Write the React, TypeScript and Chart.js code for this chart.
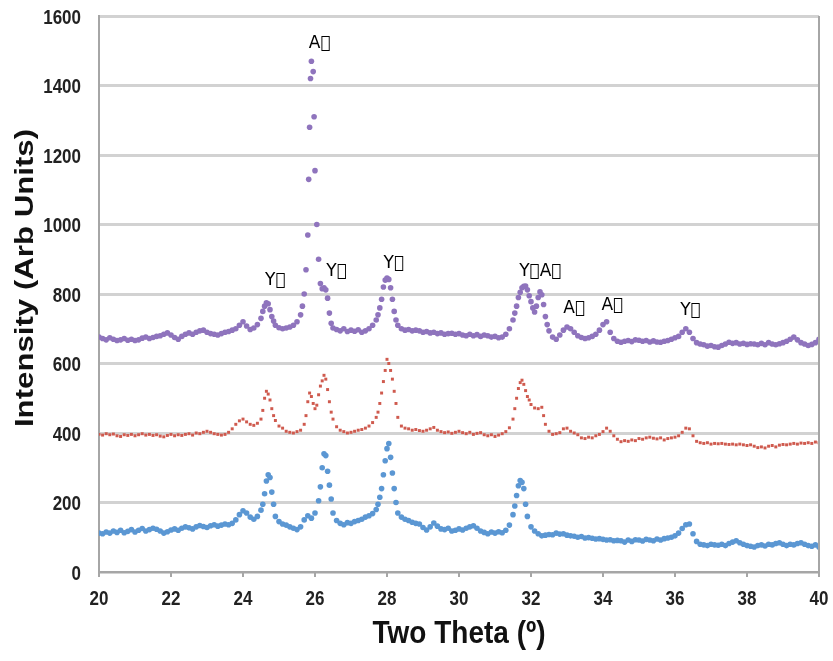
import React, { useEffect, useRef } from "react";
import { Chart, registerables } from "chart.js";
Chart.register(...registerables);

// [two theta, intensity]
const blueSeries: [number, number][] = [
  [20.0,112],[20.1,110],[20.2,115],[20.3,112],[20.4,118],[20.5,114],[20.6,120],[20.7,113],[20.8,117],[20.9,122],
  [21.0,115],[21.1,120],[21.2,125],[21.3,118],[21.4,122],[21.5,126],[21.6,123],[21.7,118],[21.8,112],[21.9,116],
  [22.0,121],[22.1,124],[22.2,120],[22.3,126],[22.4,130],[22.5,127],[22.6,124],[22.7,130],[22.8,134],[22.9,131],
  [23.0,128],[23.1,133],[23.2,136],[23.3,132],[23.4,135],[23.5,138],[23.6,136],[23.7,140],[23.8,150],[23.9,165],
  [24.0,176],[24.1,170],[24.2,158],[24.3,152],[24.4,160],[24.5,178],[24.55,195],[24.6,225],[24.65,262],[24.7,280],
  [24.75,272],[24.8,230],[24.85,195],[24.9,160],[25.0,145],[25.1,138],[25.2,135],[25.3,130],[25.4,126],[25.5,122],
  [25.6,130],[25.7,150],[25.8,162],[25.9,155],[26.0,170],[26.1,205],[26.15,245],[26.2,300],[26.25,340],[26.3,335],
  [26.35,290],[26.4,250],[26.45,210],[26.5,170],[26.6,148],[26.7,140],[26.8,136],[26.9,142],[27.0,140],[27.1,145],
  [27.2,148],[27.3,152],[27.4,158],[27.5,162],[27.6,168],[27.7,180],[27.75,195],[27.8,215],[27.85,240],[27.9,280],
  [27.95,320],[28.0,355],[28.05,370],[28.1,330],[28.15,285],[28.2,240],[28.25,200],[28.3,170],[28.4,158],[28.5,152],
  [28.6,148],[28.7,143],[28.8,140],[28.9,138],[29.0,128],[29.1,121],[29.2,130],[29.3,141],[29.4,132],[29.5,124],
  [29.6,122],[29.7,126],[29.8,118],[29.9,120],[30.0,124],[30.1,121],[30.2,126],[30.3,130],[30.4,133],[30.5,126],
  [30.6,118],[30.7,114],[30.8,110],[30.9,115],[31.0,112],[31.1,116],[31.2,113],[31.3,120],[31.4,135],[31.5,165],
  [31.55,190],[31.6,220],[31.65,248],[31.7,263],[31.75,258],[31.8,240],[31.85,195],[31.9,160],[32.0,130],[32.1,118],
  [32.2,110],[32.3,104],[32.4,106],[32.5,108],[32.6,107],[32.7,112],[32.8,109],[32.9,110],[33.0,106],[33.1,104],
  [33.2,103],[33.3,100],[33.4,102],[33.5,98],[33.6,99],[33.7,97],[33.8,95],[33.9,96],[34.0,94],[34.1,92],
  [34.2,93],[34.3,90],[34.4,91],[34.5,90],[34.6,86],[34.7,92],[34.8,88],[34.9,93],[35.0,92],[35.1,89],
  [35.2,94],[35.3,92],[35.4,90],[35.5,95],[35.6,92],[35.7,96],[35.8,98],[35.9,100],[36.0,104],[36.1,112],
  [36.2,125],[36.3,136],[36.4,138],[36.5,110],[36.6,88],[36.7,80],[36.8,78],[36.9,76],[37.0,80],[37.1,78],
  [37.2,77],[37.3,80],[37.4,76],[37.5,82],[37.6,86],[37.7,90],[37.8,84],[37.9,80],[38.0,76],[38.1,74],
  [38.2,72],[38.3,76],[38.4,78],[38.5,75],[38.6,80],[38.7,78],[38.8,82],[38.9,84],[39.0,80],[39.1,76],
  [39.2,80],[39.3,78],[39.4,82],[39.5,84],[39.6,80],[39.7,76],[39.8,74],[39.9,78],[40.0,72],
];

const redSeries: [number, number][] = [
  [20.0,396],[20.1,394],[20.2,398],[20.3,395],[20.4,397],[20.5,392],[20.6,390],[20.7,395],[20.8,393],[20.9,396],
  [21.0,392],[21.1,395],[21.2,398],[21.3,394],[21.4,396],[21.5,393],[21.6,395],[21.7,391],[21.8,389],[21.9,393],
  [22.0,396],[22.1,392],[22.2,395],[22.3,393],[22.4,396],[22.5,398],[22.6,394],[22.7,400],[22.8,398],[22.9,402],
  [23.0,405],[23.1,402],[23.2,398],[23.3,396],[23.4,394],[23.5,396],[23.6,402],[23.7,412],[23.8,425],[23.9,435],
  [24.0,440],[24.1,432],[24.2,425],[24.3,422],[24.4,428],[24.5,440],[24.55,465],[24.6,500],[24.65,520],[24.7,512],
  [24.75,495],[24.8,470],[24.85,450],[24.9,436],[25.0,420],[25.1,414],[25.2,405],[25.3,402],[25.4,400],[25.5,404],
  [25.6,408],[25.7,425],[25.75,450],[25.8,490],[25.85,515],[25.9,505],[25.95,485],[26.0,470],[26.05,480],[26.1,510],
  [26.15,535],[26.2,550],[26.25,566],[26.3,555],[26.35,525],[26.4,490],[26.45,460],[26.5,440],[26.6,418],[26.7,408],
  [26.8,404],[26.9,400],[27.0,402],[27.1,405],[27.2,408],[27.3,410],[27.4,414],[27.5,420],[27.6,430],[27.7,445],
  [27.75,460],[27.8,485],[27.85,515],[27.9,548],[27.95,580],[28.0,612],[28.05,600],[28.1,580],[28.15,555],[28.2,520],
  [28.25,485],[28.3,445],[28.4,420],[28.5,414],[28.6,412],[28.7,408],[28.8,410],[28.9,407],[29.0,405],[29.1,408],
  [29.2,412],[29.3,416],[29.4,408],[29.5,404],[29.6,401],[29.7,403],[29.8,399],[29.9,402],[30.0,405],[30.1,401],
  [30.2,398],[30.3,402],[30.4,396],[30.5,399],[30.6,401],[30.7,395],[30.8,392],[30.9,395],[31.0,390],[31.1,394],
  [31.2,398],[31.3,404],[31.4,415],[31.5,440],[31.55,470],[31.6,500],[31.65,528],[31.7,545],[31.75,552],[31.8,540],
  [31.85,522],[31.9,505],[31.95,495],[32.0,482],[32.1,472],[32.2,470],[32.3,474],[32.35,450],[32.4,425],[32.5,405],
  [32.6,396],[32.7,398],[32.8,401],[32.9,412],[33.0,414],[33.1,405],[33.2,400],[33.3,395],[33.4,386],[33.5,384],
  [33.6,388],[33.7,386],[33.8,392],[33.9,396],[34.0,404],[34.1,414],[34.2,405],[34.3,392],[34.4,382],[34.5,375],
  [34.6,378],[34.7,376],[34.8,380],[34.9,378],[35.0,384],[35.1,382],[35.2,386],[35.3,388],[35.4,385],[35.5,383],
  [35.6,386],[35.7,380],[35.8,384],[35.9,386],[36.0,388],[36.1,392],[36.2,402],[36.3,414],[36.4,412],[36.5,392],
  [36.6,376],[36.7,372],[36.8,370],[36.9,372],[37.0,368],[37.1,370],[37.2,369],[37.3,370],[37.4,368],[37.5,367],
  [37.6,368],[37.7,366],[37.8,368],[37.9,366],[38.0,364],[38.1,366],[38.2,362],[38.3,358],[38.4,360],[38.5,357],
  [38.6,362],[38.7,364],[38.8,360],[38.9,365],[39.0,367],[39.1,366],[39.2,368],[39.3,370],[39.4,368],[39.5,371],
  [39.6,370],[39.7,372],[39.8,370],[39.9,374],[40.0,372],
];

const purpleSeries: [number, number][] = [
  [20.0,676],[20.1,672],[20.2,668],[20.3,674],[20.4,670],[20.5,666],[20.6,668],[20.7,672],[20.8,667],[20.9,670],
  [21.0,666],[21.1,668],[21.2,673],[21.3,676],[21.4,672],[21.5,675],[21.6,678],[21.7,680],[21.8,684],[21.9,688],
  [22.0,682],[22.1,675],[22.2,670],[22.3,678],[22.4,684],[22.5,688],[22.6,684],[22.7,690],[22.8,694],[22.9,696],
  [23.0,690],[23.1,686],[23.2,684],[23.3,682],[23.4,686],[23.5,690],[23.6,692],[23.7,696],[23.8,700],[23.9,710],
  [24.0,720],[24.1,708],[24.2,698],[24.3,702],[24.4,712],[24.5,730],[24.55,750],[24.6,765],[24.65,775],[24.7,772],
  [24.75,755],[24.8,735],[24.85,722],[24.9,710],[25.0,703],[25.1,700],[25.2,702],[25.3,705],[25.4,710],[25.5,720],
  [25.6,740],[25.65,765],[25.7,800],[25.75,870],[25.8,970],[25.825,1130],[25.85,1280],[25.875,1420],[25.9,1470],[25.95,1440],
  [25.975,1310],[26.0,1155],[26.05,1000],[26.1,900],[26.15,830],[26.2,815],[26.25,818],[26.3,812],[26.35,788],[26.4,745],
  [26.45,716],[26.5,702],[26.6,698],[26.7,694],[26.8,700],[26.9,692],[27.0,696],[27.1,693],[27.2,697],[27.3,690],
  [27.4,694],[27.5,700],[27.6,710],[27.7,725],[27.75,740],[27.8,760],[27.85,785],[27.9,820],[27.95,840],[28.0,846],
  [28.05,842],[28.1,818],[28.15,785],[28.2,750],[28.25,725],[28.3,710],[28.4,700],[28.5,696],[28.6,698],[28.7,694],
  [28.8,696],[28.9,694],[29.0,690],[29.1,692],[29.2,688],[29.3,690],[29.4,686],[29.5,688],[29.6,684],[29.7,686],
  [29.8,687],[29.9,684],[30.0,686],[30.1,682],[30.2,680],[30.3,684],[30.4,680],[30.5,683],[30.6,678],[30.7,682],
  [30.8,680],[30.9,676],[31.0,678],[31.1,674],[31.2,676],[31.3,684],[31.4,700],[31.5,725],[31.55,745],[31.6,765],
  [31.65,790],[31.7,805],[31.75,818],[31.8,822],[31.85,823],[31.9,812],[31.95,795],[32.0,778],[32.05,760],[32.1,748],
  [32.15,765],[32.2,790],[32.25,806],[32.3,798],[32.35,770],[32.4,735],[32.45,712],[32.5,694],[32.6,676],[32.7,670],
  [32.8,682],[32.9,696],[33.0,705],[33.1,700],[33.2,690],[33.3,680],[33.4,675],[33.5,672],[33.6,674],[33.7,678],
  [33.8,684],[33.9,696],[34.0,712],[34.1,720],[34.2,690],[34.3,672],[34.4,664],[34.5,661],[34.6,664],[34.7,666],
  [34.8,663],[34.9,668],[35.0,667],[35.1,664],[35.2,666],[35.3,662],[35.4,665],[35.5,662],[35.6,661],[35.7,664],
  [35.8,666],[35.9,670],[36.0,674],[36.1,678],[36.2,690],[36.3,700],[36.4,690],[36.5,672],[36.6,660],[36.7,656],
  [36.8,654],[36.9,650],[37.0,652],[37.1,648],[37.2,647],[37.3,652],[37.4,656],[37.5,661],[37.6,658],[37.7,660],
  [37.8,656],[37.9,658],[38.0,655],[38.1,657],[38.2,656],[38.3,654],[38.4,658],[38.5,654],[38.6,660],[38.7,656],
  [38.8,654],[38.9,657],[39.0,660],[39.1,664],[39.2,670],[39.3,676],[39.4,668],[39.5,660],[39.6,656],[39.7,652],
  [39.8,655],[39.9,660],[40.0,670],
];

const xTicks = [20, 22, 24, 26, 28, 30, 32, 34, 36, 38, 40];
const yTicks = [0, 200, 400, 600, 800, 1000, 1200, 1400, 1600];
const MISSING = "\uE000";
const peakLabelText = ["A" + MISSING, "Y" + MISSING, "Y" + MISSING, "Y" + MISSING, "Y" + MISSING + "A" + MISSING, "A" + MISSING, "A" + MISSING, "Y" + MISSING];
const peakLabelTheta = [26.13, 24.9, 26.6, 28.19, 32.26, 33.2, 34.26, 36.43];
const peakLabelIntensity = [1522, 838, 864, 887, 864, 757, 768, 751];
const xTitle = "Two Theta (º)";
const yTitle = "Intensity (Arb Units)";

const textPlugin = {
  id: "customText",
  afterDraw(chart: any) {
    const { ctx, chartArea } = chart;
    const xs = chart.scales.x;
    const ys = chart.scales.y;
    ctx.save();
    // right border
    ctx.strokeStyle = "#a6a6a6";
    ctx.lineWidth = 2;
    ctx.beginPath();
    ctx.moveTo(chartArea.right, chartArea.top);
    ctx.lineTo(chartArea.right, chartArea.bottom);
    ctx.stroke();
    // x tick marks
    xTicks.forEach((t) => {
      const px = xs.getPixelForValue(t);
      ctx.beginPath();
      ctx.moveTo(px, chartArea.bottom);
      ctx.lineTo(px, chartArea.bottom + 5);
      ctx.stroke();
    });
    // tick labels
    ctx.fillStyle = "#222";
    ctx.font = 'bold 17px "Liberation Sans", Arial, sans-serif';
    ctx.textAlign = "center";
    ctx.textBaseline = "middle";
    xTicks.forEach((t) => {
      const px = xs.getPixelForValue(t);
      ctx.save();
      ctx.translate(px, chartArea.bottom + 27);
      ctx.scale(1, 1.2);
      ctx.fillText(String(t), 0, 0);
      ctx.restore();
    });
    ctx.textAlign = "right";
    yTicks.forEach((t) => {
      const py = ys.getPixelForValue(t);
      ctx.save();
      ctx.translate(chartArea.left - 18, py + 2);
      ctx.scale(1, 1.2);
      ctx.fillText(String(t), 0, 0);
      ctx.restore();
    });
    // axis titles
    ctx.fillStyle = "#111";
    ctx.font = 'bold 28px "Liberation Sans", Arial, sans-serif';
    ctx.textAlign = "center";
    ctx.textBaseline = "middle";
    ctx.save();
    ctx.translate((chartArea.left + chartArea.right) / 2, 634);
    ctx.scale(1, 1.15);
    ctx.fillText(xTitle, 0, 0);
    ctx.restore();
    ctx.save();
    ctx.translate(26, 278);
    ctx.rotate(-Math.PI / 2);
    ctx.font = 'bold 26px "Liberation Sans", Arial, sans-serif';
    ctx.scale(1.2, 1);
    ctx.fillText(yTitle, 0, 0);
    ctx.restore();
    // peak labels
    ctx.fillStyle = "#000";
    ctx.font = '17px "DejaVu Sans", sans-serif';
    peakLabelText.forEach((txt, i) => {
      ctx.fillText(txt, xs.getPixelForValue(peakLabelTheta[i]), ys.getPixelForValue(peakLabelIntensity[i]));
    });
    ctx.restore();
  },
};

export default function App() {
  const ref = useRef<HTMLCanvasElement | null>(null);
  useEffect(() => {
    document.body.style.margin = "0";
    const canvas = ref.current;
    if (!canvas) return;
    const toPts = (arr: [number, number][]) => arr.map(([x, y]) => ({ x, y }));
    const chart = new Chart(canvas, {
      type: "scatter",
      data: {
        datasets: [
          { data: toPts(blueSeries), backgroundColor: "#5b97d3", borderColor: "#5b97d3", pointRadius: 2.8, borderWidth: 0, pointStyle: "circle" },
          { data: toPts(redSeries), backgroundColor: "#cf5a4e", borderColor: "#cf5a4e", pointRadius: 2.1, borderWidth: 0, pointStyle: "rect" },
          { data: toPts(purpleSeries), backgroundColor: "#8f74bd", borderColor: "#8f74bd", pointRadius: 2.8, borderWidth: 0, pointStyle: "circle" },
        ],
      },
      options: {
        animation: false,
        responsive: false,
        maintainAspectRatio: false,
        layout: { padding: { left: 99, right: 14, top: 16, bottom: 89 } },
        plugins: { legend: { display: false }, tooltip: { enabled: false } },
        scales: {
          x: {
            type: "linear",
            min: 20,
            max: 40,
            ticks: { display: false, stepSize: 2 },
            grid: { display: false, drawTicks: false },
            border: { display: true, color: "#a6a6a6", width: 2 },
          },
          y: {
            min: 0,
            max: 1600,
            ticks: { display: false, stepSize: 200 },
            grid: { color: "#d2d2d2", lineWidth: 3, drawTicks: false },
            border: { display: true, color: "#a6a6a6", width: 2 },
          },
        },
      },
      plugins: [textPlugin],
    } as any);
    return () => chart.destroy();
  }, []);
  return <canvas ref={ref} width={833} height={661} style={{ display: "block" }} />;
}
